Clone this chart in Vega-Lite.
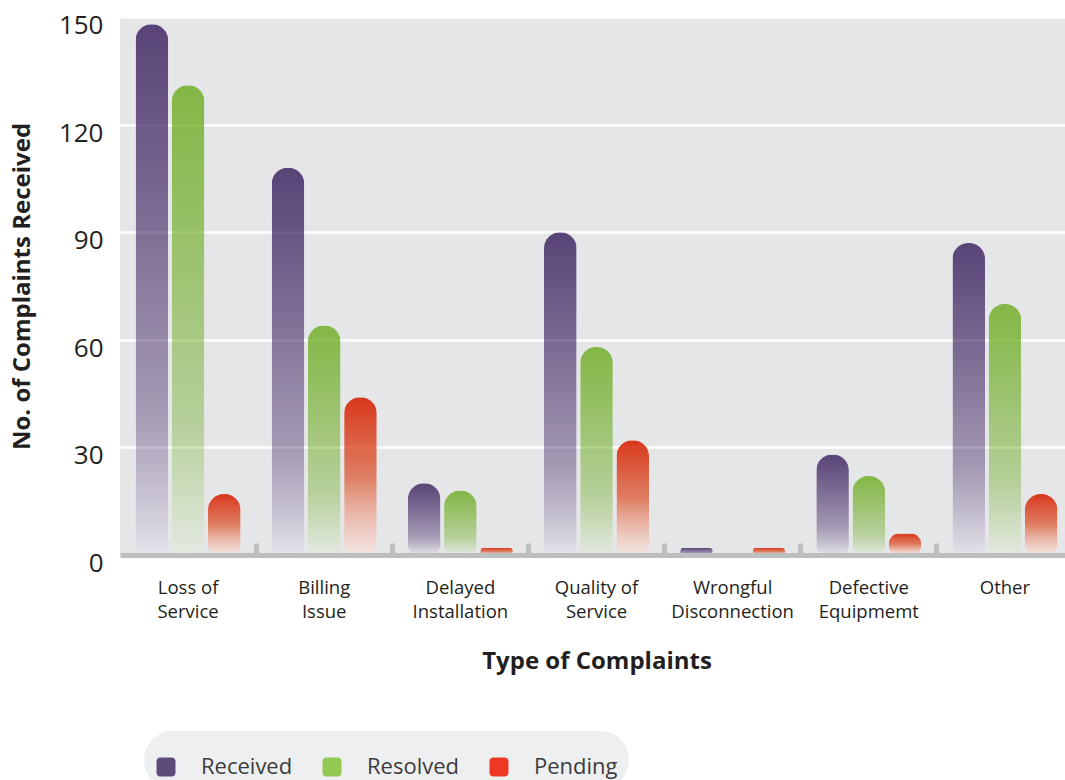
{
  "$schema": "https://vega.github.io/schema/vega-lite/v6.json",
  "width": 953,
  "height": 538,
  "autosize": "none",
  "padding": {"left": 120, "top": 17, "right": -8, "bottom": 225},
  "background": "white",
  "config": {
    "font": "Open Sans",
    "view": {"fill": "#e5e6e8", "stroke": null}
  },
  "data": {
    "values": [
      {"complaint": "Loss of Service", "status": "Received", "count": 148},
      {"complaint": "Loss of Service", "status": "Resolved", "count": 131},
      {"complaint": "Loss of Service", "status": "Pending", "count": 17},
      {"complaint": "Billing Issue", "status": "Received", "count": 108},
      {"complaint": "Billing Issue", "status": "Resolved", "count": 64},
      {"complaint": "Billing Issue", "status": "Pending", "count": 44},
      {"complaint": "Delayed Installation", "status": "Received", "count": 20},
      {"complaint": "Delayed Installation", "status": "Resolved", "count": 18},
      {"complaint": "Delayed Installation", "status": "Pending", "count": 2},
      {"complaint": "Quality of Service", "status": "Received", "count": 90},
      {"complaint": "Quality of Service", "status": "Resolved", "count": 58},
      {"complaint": "Quality of Service", "status": "Pending", "count": 32},
      {"complaint": "Wrongful Disconnection", "status": "Received", "count": 2},
      {"complaint": "Wrongful Disconnection", "status": "Resolved", "count": 0},
      {"complaint": "Wrongful Disconnection", "status": "Pending", "count": 2},
      {"complaint": "Defective Equipmemt", "status": "Received", "count": 28},
      {"complaint": "Defective Equipmemt", "status": "Resolved", "count": 22},
      {"complaint": "Defective Equipmemt", "status": "Pending", "count": 6},
      {"complaint": "Other", "status": "Received", "count": 87},
      {"complaint": "Other", "status": "Resolved", "count": 70},
      {"complaint": "Other", "status": "Pending", "count": 17}
    ]
  },
  "encoding": {
    "x": {
      "field": "complaint",
      "type": "nominal",
      "sort": ["Loss of Service", "Billing Issue", "Delayed Installation", "Quality of Service", "Wrongful Disconnection", "Defective Equipmemt", "Other"],
      "scale": {"paddingInner": 0, "paddingOuter": 0},
      "title": "Type of Complaints",
      "axis": {
        "zindex": 1,
        "grid": false,
        "domain": true,
        "domainColor": "#bcbec0",
        "domainWidth": 5,
        "ticks": true,
        "bandPosition": 0,
        "tickColor": "#bcbec0",
        "tickWidth": 5,
        "tickSize": -12,
        "tickOpacity": {"condition": {"test": "datum.value === 'Loss of Service'", "value": 0}, "value": 1},
        "labelAngle": 0,
        "labelFont": "Open Sans",
        "labelFontSize": 18.5,
        "labelColor": "#231f20",
        "labelPadding": 35,
        "labelLineHeight": 24,
        "labelExpr": "lastindexof(datum.label, ' ') < 0 ? datum.label : [substring(datum.label, 0, lastindexof(datum.label, ' ')), substring(datum.label, lastindexof(datum.label, ' ') + 1)]",
        "titleFont": "Open Sans",
        "titleFontSize": 24,
        "titleFontWeight": "bold",
        "titleColor": "#231f20",
        "titlePadding": 29
      }
    },
    "y": {
      "field": "count",
      "type": "quantitative",
      "scale": {"domain": [0, 150], "nice": false},
      "title": "No. of Complaints Received",
      "axis": {
        "values": [0, 30, 60, 90, 120, 150],
        "grid": true,
        "gridColor": "#ffffff",
        "gridWidth": 2.5,
        "domain": false,
        "ticks": false,
        "labelFont": "Open Sans",
        "labelFontSize": 26,
        "labelColor": "#231f20",
        "labelPadding": 17,
        "labelOffset": 8.5,
        "labelBaseline": "middle",
        "titleFont": "Open Sans",
        "titleFontSize": 24,
        "titleFontWeight": "bold",
        "titleColor": "#231f20",
        "titlePadding": 24
      }
    },
    "xOffset": {
      "field": "status",
      "type": "nominal",
      "sort": ["Received", "Resolved", "Pending"],
      "scale": {"domain": ["Received", "Resolved", "Pending"], "paddingInner": 0.1, "paddingOuter": 0.43}
    }
  },
  "layer": [
    {
      "transform": [{"filter": "datum.status === 'Received'"}],
      "mark": {
        "type": "bar",
        "cornerRadiusTopLeft": 16,
        "cornerRadiusTopRight": 16,
        "cornerRadiusBottomLeft": 10,
        "cornerRadiusBottomRight": 10,
        "fill": {
          "gradient": "linear", "x1": 0, "y1": 0, "x2": 0, "y2": 1,
          "stops": [
            {"offset": 0, "color": "rgba(40,10,80,0.74)"},
            {"offset": 0.35, "color": "rgba(40,10,80,0.56)"},
            {"offset": 0.72, "color": "rgba(40,10,80,0.35)"},
            {"offset": 1, "color": "rgba(225,220,235,0.4)"}
          ]
        }
      }
    },
    {
      "transform": [{"filter": "datum.status === 'Resolved'"}],
      "mark": {
        "type": "bar",
        "cornerRadiusTopLeft": 16,
        "cornerRadiusTopRight": 16,
        "cornerRadiusBottomLeft": 10,
        "cornerRadiusBottomRight": 10,
        "fill": {
          "gradient": "linear", "x1": 0, "y1": 0, "x2": 0, "y2": 1,
          "stops": [
            {"offset": 0, "color": "rgba(100,168,18,0.76)"},
            {"offset": 0.35, "color": "rgba(100,168,18,0.58)"},
            {"offset": 0.72, "color": "rgba(100,168,18,0.36)"},
            {"offset": 1, "color": "rgba(228,238,218,0.4)"}
          ]
        }
      }
    },
    {
      "transform": [{"filter": "datum.status === 'Pending'"}],
      "mark": {
        "type": "bar",
        "cornerRadiusTopLeft": 16,
        "cornerRadiusTopRight": 16,
        "cornerRadiusBottomLeft": 10,
        "cornerRadiusBottomRight": 10,
        "fill": {
          "gradient": "linear", "x1": 0, "y1": 0, "x2": 0, "y2": 1,
          "stops": [
            {"offset": 0, "color": "rgba(215,35,5,0.9)"},
            {"offset": 0.5, "color": "rgba(220,80,40,0.7)"},
            {"offset": 1, "color": "rgba(255,228,218,0.5)"}
          ]
        }
      }
    },
    {
      "mark": {"type": "point", "filled": true, "opacity": 0},
      "encoding": {
        "color": {
          "field": "status",
          "type": "nominal",
          "scale": {"domain": ["Received", "Resolved", "Pending"], "range": ["#5f4a7c", "#93c853", "#ee3824"]},
          "legend": {
            "title": " ",
            "titleFontSize": 10,
            "titlePadding": 4,
            "orient": "none",
            "legendX": 24,
            "legendY": 714,
            "direction": "horizontal",
            "columns": 3,
            "symbolType": "M-1,-0.55 Q-1,-1 -0.55,-1 L0.55,-1 Q1,-1 1,-0.55 L1,0.55 Q1,1 0.55,1 L-0.55,1 Q-1,1 -1,0.55 Z",
            "symbolSize": 361,
            "symbolOpacity": 1,
            "symbolStrokeWidth": 0,
            "labelFont": "Open Sans",
            "labelFontSize": 22,
            "labelColor": "#3c3c3c",
            "labelOffset": 24,
            "columnPadding": 28,
            "padding": 11,
            "fillColor": "#eeeff0",
            "cornerRadius": 30
          }
        }
      }
    }
  ]
}
